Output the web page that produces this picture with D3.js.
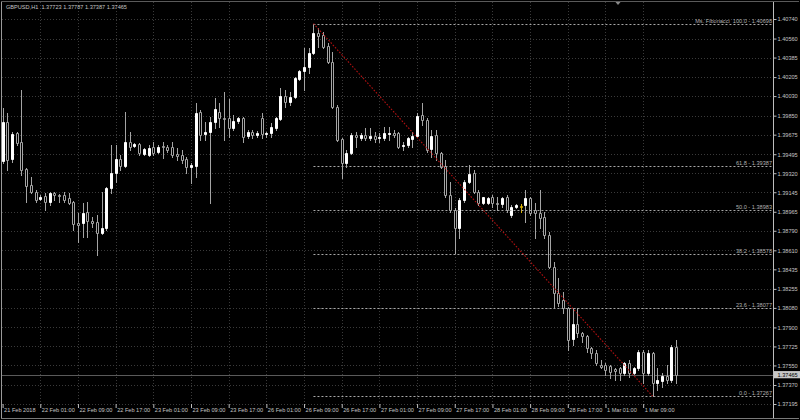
<!DOCTYPE html>
<html><head><meta charset="utf-8">
<script src="https://cdn.jsdelivr.net/npm/d3@7"></script>
<style>
html,body{margin:0;padding:0;background:#000;}
svg{display:block;}
text{font-family:"Liberation Sans",Arial,sans-serif;}
</style>
</head><body>
<svg id="chart" width="800" height="420"></svg>
<script>
// ---------------- DATA ----------------
const symbolTitle = "GBPUSD,H1";
const sessionDays = [["21 Feb",17,23],["22 Feb",0,23],["23 Feb",0,23],["26 Feb",0,23],["27 Feb",0,23],["28 Feb",0,23],["1 Mar",0,16]];

const opens = [1.39432,1.39791,1.39451,1.39690,1.39607,1.39359,1.39211,1.39147,1.39082,1.39110,
1.39055,1.39137,1.39119,1.39119,1.39091,1.39055,1.38861,1.38861,1.38963,1.38880,
1.38870,1.38769,1.38815,1.39184,1.39322,1.39451,1.39386,1.39607,1.39570,1.39589,
1.39497,1.39487,1.39561,1.39515,1.39570,1.39561,1.39561,1.39497,1.39487,1.39451,
1.39377,1.39386,1.39884,1.39681,1.39699,1.39791,1.39884,1.39828,1.39828,1.39736,
1.39800,1.39828,1.39662,1.39699,1.39672,1.39828,1.39681,1.39690,1.39736,1.39819,
1.40031,1.39976,1.40022,1.40187,1.40261,1.40298,1.40427,1.40611,1.40593,1.40491,
1.40344,1.39930,1.39635,1.39414,1.39506,1.39672,1.39644,1.39672,1.39644,1.39662,
1.39644,1.39644,1.39681,1.39690,1.39690,1.39570,1.39580,1.39635,1.39662,1.39856,
1.39810,1.39543,1.39672,1.39506,1.39386,1.39119,1.38981,1.38815,1.39073,1.39239,
1.39322,1.39147,1.39045,1.39045,1.39101,1.39045,1.39036,1.39101,1.38935,1.39008,
1.39017,1.39027,1.39091,1.38981,1.38953,1.38916,1.38751,1.38456,1.38216,1.38152,
1.38078,1.37793,1.37931,1.37848,1.37820,1.37710,1.37664,1.37553,1.37553,1.37544,
1.37517,1.37526,1.37480,1.37572,1.37480,1.37526,1.37673,1.37480,1.37664,1.37388,
1.37406,1.37452,1.37415,1.37723];
const highs = [1.39920,1.39874,1.39699,1.39699,1.40086,1.39368,1.39285,1.39165,1.39119,1.39137,
1.39147,1.39147,1.39128,1.39147,1.39137,1.39060,1.38953,1.39045,1.39055,1.38916,
1.38935,1.39147,1.39193,1.39580,1.39580,1.39487,1.39884,1.39699,1.39598,1.39598,
1.39552,1.39580,1.39607,1.39580,1.39607,1.39580,1.39607,1.39552,1.39534,1.39469,
1.39414,1.39966,1.39902,1.39791,1.39837,1.40012,1.39966,1.40068,1.40000,1.39856,
1.39837,1.39837,1.39718,1.39718,1.39708,1.39874,1.39699,1.39782,1.39837,1.40105,
1.40086,1.40068,1.40206,1.40270,1.40473,1.40473,1.40698,1.40657,1.40620,1.40519,
1.40436,1.39948,1.39644,1.39534,1.39690,1.39699,1.39690,1.39736,1.39736,1.39699,
1.39690,1.39745,1.39745,1.39718,1.39699,1.39607,1.39653,1.39699,1.39874,1.39966,
1.39828,1.39718,1.39718,1.39515,1.39441,1.39239,1.38999,1.39091,1.39257,1.39395,
1.39349,1.39165,1.39105,1.39101,1.39119,1.39101,1.39101,1.39119,1.39027,1.39036,
1.39036,1.39165,1.39101,1.39045,1.39165,1.38963,1.38778,1.38502,1.38355,1.38226,
1.38087,1.38078,1.38078,1.37857,1.37830,1.37719,1.37692,1.37599,1.37572,1.37553,
1.37526,1.37535,1.37581,1.37599,1.37535,1.37692,1.37692,1.37692,1.37673,1.37526,
1.37480,1.37553,1.37738,1.37787];
const lows = [1.39414,1.39349,1.39423,1.39580,1.39303,1.39055,1.39140,1.39055,1.39073,1.38981,
1.39027,1.39073,1.39055,1.39055,1.39040,1.38797,1.38686,1.38732,1.38732,1.38824,
1.38566,1.38760,1.38797,1.39137,1.39239,1.39349,1.39377,1.39534,1.39561,1.39487,
1.39487,1.39478,1.39487,1.39506,1.39460,1.39515,1.39469,1.39441,1.39414,1.39322,
1.39230,1.39285,1.39626,1.39626,1.39045,1.39736,1.39745,1.39626,1.39653,1.39718,
1.39782,1.39607,1.39644,1.39644,1.39653,1.39644,1.39653,1.39653,1.39718,1.39810,
1.39930,1.39948,1.40012,1.40178,1.40086,1.40243,1.40418,1.40482,1.40473,1.40335,
1.39920,1.39616,1.39276,1.39377,1.39497,1.39561,1.39626,1.39626,1.39626,1.39607,
1.39607,1.39626,1.39626,1.39653,1.39552,1.39534,1.39561,1.39561,1.39653,1.39764,
1.39515,1.39469,1.39441,1.39368,1.39101,1.38963,1.38585,1.38723,1.39055,1.39230,
1.39137,1.39027,1.39040,1.39036,1.39008,1.38981,1.39008,1.38963,1.38916,1.39004,
1.38963,1.38870,1.38935,1.38723,1.38815,1.38723,1.38447,1.38078,1.38097,1.38032,
1.37692,1.37738,1.37811,1.37765,1.37673,1.37618,1.37553,1.37526,1.37461,1.37434,
1.37415,1.37415,1.37461,1.37443,1.37470,1.37507,1.37388,1.37461,1.37267,1.37323,
1.37351,1.37388,1.37397,1.37387];
const closes = [1.39791,1.39441,1.39681,1.39598,1.39349,1.39202,1.39147,1.39073,1.39101,1.39055,
1.39137,1.39119,1.39110,1.39073,1.39045,1.38852,1.38843,1.38953,1.38880,1.38861,
1.38769,1.38815,1.39184,1.39322,1.39451,1.39386,1.39607,1.39561,1.39589,1.39506,
1.39543,1.39552,1.39506,1.39561,1.39561,1.39534,1.39487,1.39478,1.39441,1.39377,
1.39395,1.39874,1.39672,1.39699,1.39791,1.39911,1.39828,1.39819,1.39736,1.39800,
1.39828,1.39653,1.39699,1.39672,1.39690,1.39681,1.39690,1.39745,1.39828,1.40031,
1.39976,1.40022,1.40197,1.40261,1.40298,1.40427,1.40611,1.40583,1.40482,1.40344,
1.39930,1.39626,1.39414,1.39506,1.39672,1.39653,1.39672,1.39644,1.39662,1.39635,
1.39653,1.39690,1.39690,1.39672,1.39561,1.39580,1.39644,1.39662,1.39847,1.39810,
1.39534,1.39662,1.39506,1.39377,1.39119,1.38981,1.38815,1.39073,1.39239,1.39312,
1.39147,1.39045,1.39101,1.39091,1.39045,1.39036,1.39091,1.38981,1.39008,1.39027,
1.39008,1.39091,1.38953,1.38953,1.38907,1.38751,1.38456,1.38216,1.38124,1.38078,
1.37784,1.37931,1.37848,1.37820,1.37710,1.37664,1.37572,1.37535,1.37507,1.37489,
1.37498,1.37480,1.37572,1.37480,1.37526,1.37673,1.37480,1.37664,1.37388,1.37415,
1.37452,1.37415,1.37719,1.37465];

const priceTicks = [1.40740,1.40560,1.40385,1.40205,1.40030,1.39850,1.39675,1.39495,1.39320,1.39145,
1.38965,1.38790,1.38610,1.38435,1.38255,1.38080,1.37900,1.37725,1.37550,1.37370,1.37195];
const timeTicks = ["21 Feb 17:00","22 Feb 01:00","22 Feb 09:00","22 Feb 17:00","23 Feb 01:00","23 Feb 09:00",
"23 Feb 17:00","26 Feb 01:00","26 Feb 09:00","26 Feb 17:00","27 Feb 01:00","27 Feb 09:00","27 Feb 17:00",
"28 Feb 01:00","28 Feb 09:00","28 Feb 17:00","1 Mar 01:00","1 Mar 09:00"];
const timeTickLabels = ["21 Feb 2018","22 Feb 01:00","22 Feb 09:00","22 Feb 17:00","23 Feb 01:00","23 Feb 09:00",
"23 Feb 17:00","26 Feb 01:00","26 Feb 09:00","26 Feb 17:00","27 Feb 01:00","27 Feb 09:00","27 Feb 17:00",
"28 Feb 01:00","28 Feb 09:00","28 Feb 17:00","1 Mar 01:00","1 Mar 09:00"];

const fibName = "Ms. Fibonacci";
const fibLevels = [0, 23.6, 38.2, 50, 61.8, 100];
const fibPrices = [1.37267, 1.38077, 1.38578, 1.38983, 1.39387, 1.40698];
const fibFrom = "26 Feb 11:00";
const fibTo = "1 Mar 11:00";
const highlightBar = "28 Feb 07:00";

// ---------------- BUILD ----------------
const times = [];
sessionDays.forEach(([d, h0, h1]) => { for (let h = h0; h <= h1; h++) times.push(d + " " + String(h).padStart(2,"0") + ":00"); });
const bars = times.map((t, i) => ({t, o: opens[i], h: highs[i], l: lows[i], c: closes[i]}));

const W = 800, H = 420;
const plot = {left: 2, right: 773, top: 2, bottom: 404};
const fs = 5.6;
const txtCol = "#c4c4c4";

const svg = d3.select("#chart");
svg.append("rect").attr("width", W).attr("height", H).attr("fill", "#000");

const x = d3.scalePoint().domain(times).range([2.6, 2.6 + 4.71 * (times.length - 1)]);
const y = d3.scaleLinear().domain([1.37195, 1.40740]).range([404, 19]);
const px = v => Math.round(v) + 0.5;

// grid
const grid = svg.append("g");
grid.selectAll("line.h").data(priceTicks).join("line")
  .attr("x1", plot.left).attr("x2", plot.right)
  .attr("y1", d => px(y(d))).attr("y2", d => px(y(d)))
  .attr("stroke", "#3a3a3a").attr("stroke-dasharray", "1,2");
grid.selectAll("line.v").data(timeTicks.slice(1)).join("line")
  .attr("x1", d => px(x(d))).attr("x2", d => px(x(d)))
  .attr("y1", plot.top).attr("y2", plot.bottom)
  .attr("stroke", "#3a3a3a").attr("stroke-dasharray", "1,2");

// bid line
const last = bars[bars.length - 1];
svg.append("line").attr("x1", plot.left).attr("x2", plot.right)
  .attr("y1", px(y(last.c))).attr("y2", px(y(last.c)))
  .attr("stroke", "#5a5a5a");

// candles
const cg = svg.append("g");
bars.forEach(b => {
  const cx = Math.round(x(b.t));
  const up = b.c > b.o;
  const hl = b.t === highlightBar;
  const wickCol = hl ? "#d8b000" : "#a4a4a4";
  cg.append("line").attr("x1", cx + 0.5).attr("x2", cx + 0.5)
    .attr("y1", Math.round(y(b.h))).attr("y2", Math.round(y(b.l)) + 1)
    .attr("stroke", wickCol);
  const yt = Math.round(y(Math.max(b.o, b.c))) + 0.5;
  const yb = Math.round(y(Math.min(b.o, b.c))) + 0.5;
  cg.append("path")
    .attr("d", `M${cx - 0.5},${yt}H${cx + 1.5}V${yb}H${cx - 0.5}Z`)
    .attr("fill", hl ? "#000" : (up ? "#ffffff" : "#000"))
    .attr("stroke", hl ? "#d8b000" : (up ? "#ffffff" : "#a4a4a4"));
});

// fibonacci
const fg = svg.append("g");
fibLevels.forEach((lv, i) => {
  const yy = px(y(fibPrices[i]));
  fg.append("line").attr("x1", x(fibFrom)).attr("x2", plot.right)
    .attr("y1", yy).attr("y2", yy)
    .attr("stroke", "#a8a8a8").attr("stroke-dasharray", "2,2");
  const lab = (lv === 100 ? fibName + "  " : "") + lv.toFixed(1) + " - " + fibPrices[i].toFixed(5);
  fg.append("text").attr("x", plot.right - 1).attr("y", yy - 1.5)
    .attr("text-anchor", "end").attr("font-size", fs).attr("fill", "#b0b0b0")
    .attr("xml:space", "preserve").text(lab);
});
// trend line from fib high to fib low
svg.append("line")
  .attr("x1", x(fibFrom)).attr("y1", y(fibPrices[fibPrices.length - 1]))
  .attr("x2", x(fibTo)).attr("y2", y(fibPrices[0]))
  .attr("stroke", "#b01010").attr("stroke-width", 1.1).attr("stroke-dasharray", "1.6,1.6");

// frames
svg.append("line").attr("x1", 773.5).attr("x2", 773.5).attr("y1", plot.top).attr("y2", 418)
  .attr("stroke", "#bdbdbd");
svg.append("line").attr("x1", 1.5).attr("x2", 1.5).attr("y1", 1).attr("y2", 418).attr("stroke", "#9a9a9a");
svg.append("line").attr("x1", 1).attr("x2", 799).attr("y1", 1.5).attr("y2", 1.5).attr("stroke", "#5a5a5a");
svg.append("line").attr("x1", 1).attr("x2", 799).attr("y1", 418.5).attr("y2", 418.5).attr("stroke", "#7a7a7a");

// price axis
const ya = svg.append("g").attr("transform", `translate(${plot.right + 0.5},0)`)
  .call(d3.axisRight(y).tickValues(priceTicks).tickSize(3).tickFormat(d3.format(".5f")));
ya.select(".domain").remove();
ya.selectAll(".tick line").attr("stroke", "#bdbdbd");
ya.selectAll(".tick text").attr("x", 4).attr("fill", txtCol).attr("font-size", fs)
  .attr("font-family", '"Liberation Sans",Arial,sans-serif');

// time axis
const xa = svg.append("g").attr("transform", `translate(0,${plot.bottom})`)
  .call(d3.axisBottom(x).tickValues(timeTicks).tickSize(4).tickFormat((d, i) => timeTickLabels[i]));
xa.select(".domain").remove();
xa.selectAll(".tick line").attr("stroke", "#bdbdbd");
xa.selectAll(".tick text").attr("x", 1).attr("y", 4.3).attr("text-anchor", "start")
  .attr("fill", txtCol).attr("font-size", fs).attr("font-family", '"Liberation Sans",Arial,sans-serif');

// bid label
const by = y(last.c);
svg.append("rect").attr("x", 774).attr("y", by - 3.6).attr("width", 26).attr("height", 7.2).attr("fill", "#c8c8c8");
svg.append("text").attr("x", 777.5).attr("y", by).attr("dy", "0.34em")
  .attr("font-size", fs).attr("fill", "#000").text(last.c.toFixed(5));

// header
svg.append("text").attr("x", 6).attr("y", 9).attr("font-size", fs).attr("fill", txtCol)
  .attr("xml:space", "preserve")
  .text(`${symbolTitle}  ${last.o.toFixed(5)} ${last.h.toFixed(5)} ${last.l.toFixed(5)} ${last.c.toFixed(5)}`);

// chart shift marker
svg.append("path").attr("d", "M615.5,2L620.5,2L618,5Z").attr("fill", "#8a8a8a");
</script>
</body></html>
